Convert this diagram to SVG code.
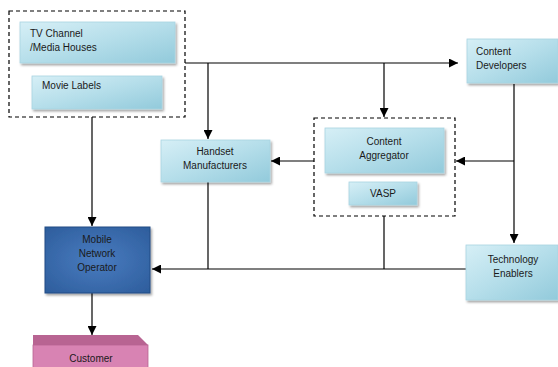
<svg xmlns="http://www.w3.org/2000/svg" width="558" height="367" viewBox="0 0 558 367">
<defs>
<linearGradient id="lb" x1="0" y1="0" x2="1" y2="1">
<stop offset="0" stop-color="#d6eff6"/>
<stop offset="0.5" stop-color="#b5deea"/>
<stop offset="1" stop-color="#92cadb"/>
</linearGradient>
<radialGradient id="db" cx="0.5" cy="0.5" r="0.7">
<stop offset="0" stop-color="#4a7cc0"/>
<stop offset="1" stop-color="#2d5d9c"/>
</radialGradient>
<filter id="sh" x="-10%" y="-10%" width="130%" height="140%">
<feDropShadow dx="1.5" dy="2" stdDeviation="1.2" flood-color="#000" flood-opacity="0.35"/>
</filter>
<marker id="ah" viewBox="0 0 10 10" refX="10" refY="5" markerWidth="9" markerHeight="9" markerUnits="userSpaceOnUse" orient="auto">
<path d="M0,0 L10,5 L0,10 z" fill="#000"/>
</marker>
</defs>
<style>
.box{fill:url(#lb);stroke:#a9d4e2;stroke-width:0.8;filter:url(#sh)}
.dash{fill:none;stroke:#000;stroke-width:1.2;stroke-dasharray:4,3}
.t{font-family:"Liberation Sans",Arial,sans-serif;font-size:10px;fill:#1a1a1a}
.c{text-anchor:middle}
.ln{fill:none;stroke:#000;stroke-width:1.2}
.ar{marker-end:url(#ah)}
</style>

<g id="connectors">
<path class="ln ar" d="M185,63 H458"/>
<path class="ln ar" d="M208,63 V139"/>
<path class="ln ar" d="M384,63 V117"/>
<path class="ln ar" d="M514,84 V243"/>
<path class="ln ar" d="M514,161 H456"/>
<path class="ln ar" d="M314,161 H271"/>
<path class="ln ar" d="M466,269 H152"/>
<path class="ln" d="M208,182 V269"/>
<path class="ln" d="M384,216 V269"/>
<path class="ln ar" d="M92,117 V226"/>
<path class="ln ar" d="M92,293 V335"/>
</g>

<g id="media-group">
<rect class="dash" x="9" y="11" width="176" height="106"/>
</g>
<g id="tv-channel">
<rect class="box" x="20" y="22" width="155" height="41"/>
<text class="t" x="30" y="37">TV Channel</text>
<text class="t" x="30" y="51">/Media Houses</text>
</g>
<g id="movie-labels">
<rect class="box" x="32" y="76" width="130" height="33"/>
<text class="t" x="42" y="89">Movie Labels</text>
</g>

<g id="content-developers">
<rect class="box" x="467" y="39" width="91" height="44"/>
<text class="t" x="476" y="55">Content</text>
<text class="t" x="476" y="69">Developers</text>
</g>

<g id="handset-manufacturers">
<rect class="box" x="161" y="140" width="109" height="42"/>
<text class="t c" x="215" y="155">Handset</text>
<text class="t c" x="215" y="169">Manufacturers</text>
</g>

<g id="aggregator-group">
<rect class="dash" x="314" y="118" width="141" height="98"/>
</g>
<g id="content-aggregator">
<rect class="box" x="325" y="128" width="119" height="45"/>
<text class="t c" x="384" y="145">Content</text>
<text class="t c" x="384" y="159">Aggregator</text>
</g>
<g id="vasp">
<rect class="box" x="349" y="182" width="68" height="23"/>
<text class="t c" x="383" y="197">VASP</text>
</g>

<g id="technology-enablers">
<rect class="box" x="466" y="245" width="92" height="55"/>
<text class="t c" x="513" y="263">Technology</text>
<text class="t c" x="513" y="277">Enablers</text>
</g>

<g id="mobile-network-operator">
<rect x="45" y="227" width="105" height="66" fill="url(#db)" stroke="#234d85" stroke-width="1" filter="url(#sh)"/>
<text class="t c" x="97" y="243" fill="#0d1d3a">Mobile</text>
<text class="t c" x="97" y="257" fill="#0d1d3a">Network</text>
<text class="t c" x="97" y="271" fill="#0d1d3a">Operator</text>
</g>

<g id="customer">
<path d="M33,335 L138,335 L148,345 L33,345 Z" fill="#b86492"/>
<rect x="33" y="345" width="115" height="24" fill="#d883b3" stroke="#b86492" stroke-width="0.8"/>
<text class="t c" x="91" y="362">Customer</text>
</g>
</svg>
